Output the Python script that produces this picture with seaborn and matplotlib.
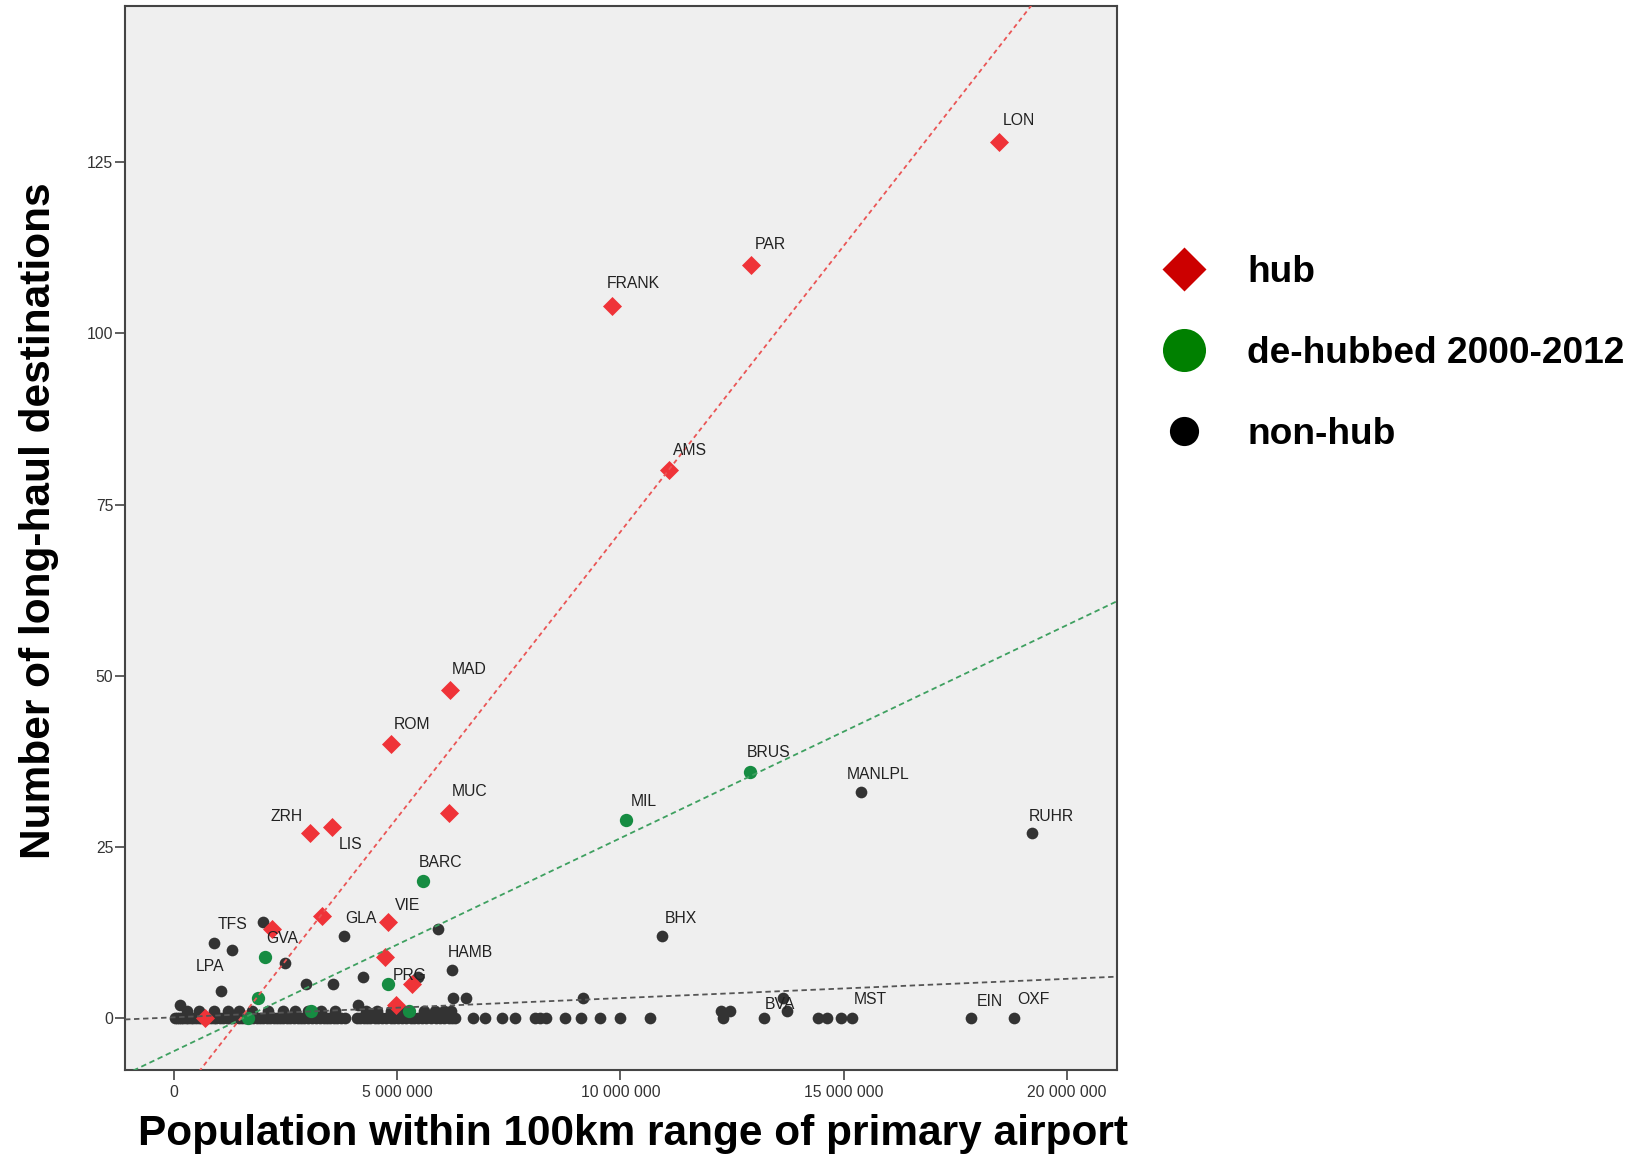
import matplotlib
matplotlib.use("Agg")
import matplotlib.pyplot as plt
import seaborn as sns
import pandas as pd
from matplotlib.lines import Line2D

# ---------------- data (population in millions, number of long-haul destinations) ----------------
hub_pop = [18.48, 12.92, 9.80, 11.09, 6.18, 4.86, 6.16, 3.05, 3.53, 4.79, 3.31, 2.19, 4.73, 5.33, 4.97, 0.69]
hub_dest = [128, 110, 104, 80, 48, 40, 30, 27, 28, 14, 15, 13, 9, 5, 2, 0]
hub_label = ["LON", "PAR", "FRANK", "AMS", "MAD", "ROM", "MUC", "ZRH", "LIS", "VIE",
             "", "", "", "", "", ""]

dehub_pop = [2.03, 5.58, 12.90, 10.12, 4.79, 1.89, 1.66, 3.07, 5.27]
dehub_dest = [9, 20, 36, 29, 5, 3, 0, 1, 1]
dehub_label = ["GVA", "BARC", "BRUS", "MIL", "PRG", "", "", "", ""]

# labelled non-hub airports
nonhub_lab_pop = [15.39, 19.22, 10.94, 3.80, 0.89, 1.06, 6.23, 13.22, 15.18, 17.84, 18.82]
nonhub_lab_dest = [33, 27, 12, 12, 11, 4, 7, 0, 0, 0, 0]
nonhub_lab_label = ["MANLPL", "RUHR", "BHX", "GLA", "TFS", "LPA", "HAMB", "BVA", "MST", "EIN", "OXF"]

# other non-hub airports above zero
nonhub_mid_pop = [1.99, 1.31, 2.49, 5.91, 2.95, 3.57, 4.23, 5.47, 6.24, 6.55, 9.15, 0.13, 4.12,
                  13.65, 13.73, 12.26, 12.46]
nonhub_mid_dest = [14, 10, 8, 13, 5, 5, 6, 6, 3, 3, 3, 2, 2, 3, 1, 1, 1]

# non-hub airports with one long-haul destination (dense cluster)
nonhub_one_pop = [0.30, 0.55, 0.90, 1.20, 1.45, 1.75, 2.10, 2.45, 2.70, 3.00, 3.30, 3.60,
                  4.30, 4.55, 4.85, 5.10, 5.60, 5.85, 6.05, 6.20]
# non-hub airports with no long-haul destination
nonhub_zero_pop = [0.02, 0.06, 0.11, 0.15, 0.20, 0.26, 0.31, 0.37, 0.42, 0.50, 0.55, 0.61,
                   0.70, 0.76, 0.83, 0.90, 0.95, 1.02, 1.10, 1.18, 1.24, 1.30, 1.37, 1.45,
                   1.52, 1.60, 1.70, 1.78, 1.85, 1.93, 2.00, 2.08, 2.15, 2.23, 2.30, 2.38,
                   2.45, 2.52, 2.60, 2.68, 2.77, 2.85, 2.92, 3.00, 3.10, 3.18, 3.26, 3.35,
                   3.43, 3.50, 3.58, 3.66, 3.75, 3.84, 4.10, 4.17, 4.25, 4.33, 4.40, 4.50,
                   4.58, 4.66, 4.75, 4.85, 4.93, 5.02, 5.10, 5.20, 5.30, 5.38, 5.47, 5.56,
                   5.65, 5.75, 5.86, 5.95, 6.05, 6.15, 6.22, 6.30,
                   6.70, 6.97, 7.34, 7.64, 8.09, 8.20, 8.33, 8.76, 9.11, 9.53, 9.98, 10.65,
                   12.30, 14.42, 14.62, 14.94]

xtick_vals = [0, 5, 10, 15, 20]
xtick_labels = ["0", "5 000 000", "10 000 000", "15 000 000", "20 000 000"]
ytick_vals = [0, 25, 50, 75, 100, 125]
legend_labels = ["hub", "de-hubbed 2000-2012", "non-hub"]

# ---------------- tables ----------------
hub_df = pd.DataFrame({"pop": hub_pop, "dest": hub_dest, "label": hub_label})
dehub_df = pd.DataFrame({"pop": dehub_pop, "dest": dehub_dest, "label": dehub_label})
nonhub_df = pd.concat([
    pd.DataFrame({"pop": nonhub_lab_pop, "dest": nonhub_lab_dest, "label": nonhub_lab_label}),
    pd.DataFrame({"pop": nonhub_mid_pop, "dest": nonhub_mid_dest, "label": ""}),
    pd.DataFrame({"pop": nonhub_one_pop, "dest": 1, "label": ""}),
    pd.DataFrame({"pop": nonhub_zero_pop, "dest": 0, "label": ""}),
], ignore_index=True)

# label offsets in pixels (dx, dy up)
label_offsets = {
    "LON": (4, 21), "PAR": (4, 20), "FRANK": (-5, 22), "AMS": (4, 20), "MAD": (2, 20),
    "ROM": (3, 20), "MUC": (3, 21), "ZRH": (-40, 17), "LIS": (7, -18), "VIE": (7, 17),
    "GVA": (2, 18), "BARC": (-4, 19), "BRUS": (-3, 19), "MIL": (5, 18), "PRG": (5, 9),
    "MANLPL": (-14, 18), "RUHR": (-3, 17), "BHX": (2, 18), "GLA": (2, 18), "TFS": (4, 18),
    "LPA": (-26, 24), "HAMB": (-4, 18), "BVA": (0, 14), "MST": (2, 19), "EIN": (6, 17),
    "OXF": (3, 19),
}

# ---------------- style ----------------
sns.set_style("white")
plt.rcParams["font.family"] = ["Liberation Sans", "DejaVu Sans"]

W, H = 1643, 1154
fig = plt.figure(figsize=(W / 100, H / 100), dpi=100)
ax = fig.add_axes([125 / W, 1 - 1070 / H, 992 / W, 1064 / H])
ax.set_facecolor("#EFEFEF")
XLIM = (-1.097, 21.12)
YLIM = (-7.55, 147.8)
ax.set_xlim(*XLIM)
ax.set_ylim(*YLIM)

RED, GREEN, BLACK = "#EF3338", "#168C42", "#333333"

sns.scatterplot(data=nonhub_df, x="pop", y="dest", ax=ax, color=BLACK, s=71,
                marker="o", linewidth=0, zorder=3)
sns.scatterplot(data=dehub_df, x="pop", y="dest", ax=ax, color=GREEN, s=92,
                marker="o", linewidth=0, zorder=4)
sns.scatterplot(data=hub_df, x="pop", y="dest", ax=ax, color=RED, s=94,
                marker="D", linewidth=0, zorder=5)

ax.set_xlim(*XLIM)
ax.set_ylim(*YLIM)

# fit lines (linear regressions per group, over the whole x range)
sns.regplot(data=nonhub_df, x="pop", y="dest", ax=ax, scatter=False, ci=None, truncate=False,
            line_kws=dict(color="#555555", lw=1.3, linestyle=(0, (3, 2)), zorder=6))
sns.regplot(data=dehub_df, x="pop", y="dest", ax=ax, scatter=False, ci=None, truncate=False,
            line_kws=dict(color="#3EA060", lw=1.3, linestyle=(0, (3, 2)), zorder=6))
sns.regplot(data=hub_df, x="pop", y="dest", ax=ax, scatter=False, ci=None, truncate=False,
            line_kws=dict(color="#EA5555", lw=1.3, linestyle=(0, (2.5, 2)), zorder=6))

ax.set_xlim(*XLIM)
ax.set_ylim(*YLIM)

# point labels
for df in (hub_df, dehub_df, nonhub_df):
    for _, r in df.iterrows():
        if r["label"]:
            dx, dy = label_offsets.get(r["label"], (4, 20))
            ax.annotate(r["label"], (r["pop"], r["dest"]), xytext=(dx, dy),
                        textcoords="offset pixels", ha="left", va="center",
                        fontsize=11.3, color="#222222", zorder=7)

# axes, ticks
ax.set_xticks(xtick_vals)
ax.set_xticklabels(xtick_labels)
ax.set_yticks(ytick_vals)
ax.tick_params(axis="both", which="major", bottom=True, left=True, direction="out",
               length=7.5, width=1.2, color="#444444", labelsize=11.3,
               labelcolor="#333333")
ax.tick_params(axis="x", pad=3)
ax.tick_params(axis="y", pad=1)
for s in ax.spines.values():
    s.set_color("#444444")
    s.set_linewidth(1.5)

ax.set_xlabel("Population within 100km range of primary airport", fontsize=30.5,
              fontweight="bold", color="black")
ax.xaxis.set_label_coords(0.5116, -0.0705)
ax.xaxis.label.set_va("baseline")
ax.set_ylabel("Number of long-haul destinations", fontsize=30.5, fontweight="bold",
              color="black")
ax.yaxis.set_label_coords(-0.0666, 0.516)

# legend
handles = [
    Line2D([0], [0], marker="D", linestyle="None", markerfacecolor="#CC0000",
           markeredgecolor="none", markersize=21.9),
    Line2D([0], [0], marker="o", linestyle="None", markerfacecolor="#008000",
           markeredgecolor="none", markersize=31),
    Line2D([0], [0], marker="o", linestyle="None", markerfacecolor="#000000",
           markeredgecolor="none", markersize=21),
]
fig.legend(handles, legend_labels, loc="upper left", bbox_to_anchor=(0.7094, 0.779),
           frameon=False, prop=dict(family="Liberation Sans", weight="bold", size=26.7),
           labelcolor="black", handlelength=1.0, handletextpad=1.2, labelspacing=1.235,
           borderpad=0, borderaxespad=0)

fig.savefig("out.png", dpi=100)
